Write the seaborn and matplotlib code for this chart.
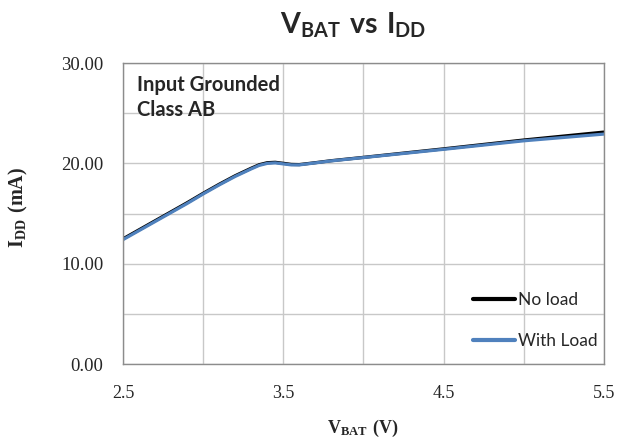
import numpy as np
import pandas as pd
import matplotlib
matplotlib.use("Agg")
import matplotlib.pyplot as plt
import seaborn as sns

vbat = [2.5, 2.6, 2.7, 2.8, 2.9, 3.0, 3.1, 3.2, 3.3, 3.35, 3.4, 3.45, 3.5, 3.55, 3.6, 3.7, 3.8, 4.0, 4.5, 5.0, 5.5]
idd_no_load = [12.48, 13.38, 14.28, 15.18, 16.08, 17.02, 17.92, 18.77, 19.52, 19.87, 20.07, 20.11, 20.01, 19.9, 19.88, 20.07, 20.27, 20.6, 21.45, 22.33, 23.12]
idd_with_load = [12.4, 13.3, 14.2, 15.1, 16.0, 16.95, 17.85, 18.7, 19.45, 19.8, 20.0, 20.05, 19.95, 19.85, 19.85, 20.05, 20.25, 20.58, 21.4, 22.25, 22.92]
series = ["No load", "With Load"]
xticks = [2.5, 3.5, 4.5, 5.5]
yticks = [0, 10, 20, 30]

df = pd.DataFrame({
    "VBAT": vbat * 2,
    "IDD": idd_no_load + idd_with_load,
    "Series": [series[0]] * len(vbat) + [series[1]] * len(vbat),
})

sns.set_theme(style="white")
plt.rcParams["mathtext.fontset"] = "custom"
plt.rcParams["mathtext.rm"] = "Liberation Serif"
plt.rcParams["mathtext.bf"] = "Liberation Serif:bold"
plt.rcParams["mathtext.sf"] = "Lato:bold"

fig = plt.figure(figsize=(6.18, 4.44), dpi=100)
ax = fig.add_axes([0.199, 0.180, 0.778, 0.678])

sns.lineplot(data=df, x="VBAT", y="IDD", hue="Series",
             palette={"No load": "#000000", "With Load": "#4F81BD"},
             linewidth=2.3, ax=ax, legend=True,
             solid_joinstyle="round", solid_capstyle="round")

ax.set_xlim(2.5, 5.5)
ax.set_ylim(0, 30)
ax.set_xticks(xticks)
ax.set_xticks([3.0, 4.0, 5.0], minor=True)
ax.set_yticks(yticks)
ax.set_yticks([5, 15, 25], minor=True)
ax.set_xticklabels([f"{v:.1f}" for v in xticks], fontfamily="Liberation Serif", fontsize=13)
ax.set_yticklabels([f"{v:.2f}" for v in yticks], fontfamily="Liberation Serif", fontsize=13.5)
ax.tick_params(axis="y", which="both", length=0, pad=14)
ax.tick_params(axis="x", which="both", length=0, pad=15)
ax.grid(True, which="both", color="#c8c8c8", linewidth=1.0)
for s in ax.spines.values():
    s.set_color("#8c8c8c")
    s.set_linewidth(1.0)

ax.set_xlabel(r"$\mathbf{V_{BAT}}\ \mathbf{(V)}$", fontsize=13)
ax.set_ylabel(r"$\mathbf{I_{DD}}\ \mathbf{(mA)}$", fontsize=14.5)
ax.xaxis.set_label_coords(0.499, -0.179)
ax.yaxis.set_label_coords(-0.193, 0.52)

fig.text(0.571, 0.944, r"$\mathsf{V_{BAT}\ vs\ I_{DD}}$", ha="center", va="center", fontsize=20.5)

ax.text(0.03, 0.96, "Input Grounded\nClass AB", transform=ax.transAxes, ha="left", va="top",
        fontfamily="Lato", fontweight="bold", fontsize=14.5, linespacing=1.3)

leg = ax.legend(loc="lower right", frameon=False, handlelength=2.4,
                handletextpad=0.15, labelspacing=1.47, prop={"family": "Lato", "size": 12.5},
                bbox_to_anchor=(1.019, -0.003), borderaxespad=0.5)
for line in leg.get_lines():
    line.set_linewidth(3)

fig.savefig("out.png", dpi=100)
